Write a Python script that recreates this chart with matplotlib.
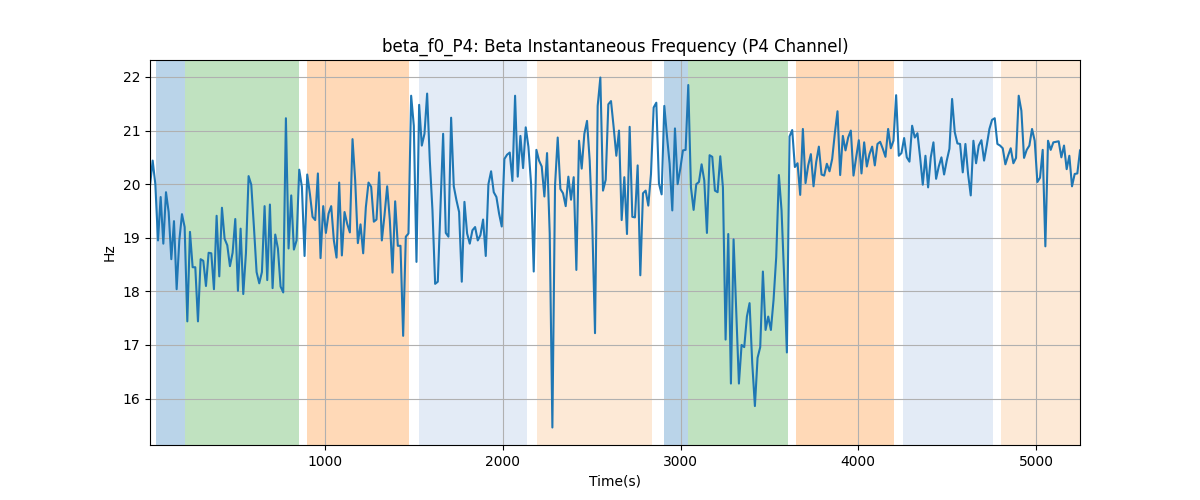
import numpy as np
import matplotlib
matplotlib.use("Agg")
import matplotlib.pyplot as plt

# Beta instantaneous frequency (Hz), one value every 15 s
freq = [
    19.97, 20.44, 20.0, 18.95, 19.76, 18.89, 19.85, 19.48, 18.6, 19.31, 18.04, 18.95, 19.44, 19.2, 17.44,
    19.11, 18.45, 18.45, 17.44, 18.6, 18.57, 18.1, 18.72, 18.71, 18.04, 19.41, 18.28, 19.56, 18.98, 18.86,
    18.47, 18.72, 19.35, 18.01, 19.17, 17.95, 18.71, 20.15, 19.99, 19.2, 18.36, 18.15, 18.36, 19.59, 18.21,
    19.62, 18.06, 19.06, 18.8, 18.09, 17.98, 21.23, 18.8, 19.79, 18.78, 18.95, 20.27, 19.95, 18.66, 20.18,
    19.82, 19.39, 19.33, 20.2, 18.62, 19.59, 19.09, 19.45, 19.59, 18.95, 18.63, 20.03, 18.67, 19.48, 19.26,
    19.1, 20.84, 20.07, 18.9, 19.25, 18.71, 19.57, 20.03, 19.95, 19.3, 19.34, 20.22, 18.95,
    19.42, 19.96, 19.33, 18.35, 19.68, 18.85, 18.85, 17.17, 19.02, 19.08, 21.65, 21.09, 18.55, 21.48, 20.72,
    20.94, 21.69, 20.44, 19.51, 18.14, 18.18, 19.57, 20.94, 19.09, 19.02, 21.24, 19.96, 19.7, 19.48, 18.18,
    19.67, 19.08, 18.89, 19.14, 19.2, 18.95, 19.05, 19.34, 18.66, 20.0, 20.24, 19.85, 19.76, 19.45,
    19.21,
    20.47, 20.55, 20.59, 20.06, 21.65, 20.14, 20.9, 20.3, 21.06, 20.7, 20.01, 18.37, 20.64, 20.44, 20.33,
    19.77, 20.58, 19.08, 15.46, 19.98, 20.87, 19.91, 19.83, 19.59, 20.14, 19.71, 20.13, 18.4, 20.81, 20.29,
    20.94, 21.18, 20.44, 19.2, 17.22, 21.46, 21.99, 19.88, 20.08, 21.49, 21.55, 21.06, 20.53, 21.0,
    19.33, 20.13, 19.07, 21.07, 19.39, 19.38, 20.35, 18.3, 19.83, 19.88, 19.6, 20.19, 21.43, 21.52, 20.01,
    19.81, 21.46, 20.9, 20.38, 19.51, 21.04, 20.0, 20.29, 20.63, 20.64, 21.85, 19.94, 19.52, 20.0, 20.04,
    20.37, 20.07, 19.09, 20.54, 20.51, 19.88, 19.85, 20.52, 19.94, 17.1, 19.07, 16.28, 18.97,
    17.6,
    16.28, 17.0, 16.96, 17.53, 17.78, 16.66, 15.86, 16.76, 16.96, 18.37, 17.28, 17.53, 17.28, 17.84, 18.64,
    20.17, 19.51, 18.24, 16.86, 20.89, 21.01, 20.32, 20.39, 19.8, 21.03, 20.02, 20.35, 20.56, 19.96, 20.41,
    20.7, 20.18, 20.16, 20.38, 20.24, 20.47, 20.95, 21.36, 20.17, 20.9, 20.63, 20.87, 21.0,
    20.16, 20.5,
    20.82, 20.2, 20.78, 20.33, 20.56, 20.7, 20.35, 20.75, 20.79, 20.66, 20.51, 21.03, 20.67, 20.81, 21.66,
    20.53, 20.58, 20.86, 20.5, 20.42, 21.09, 20.87, 20.95, 20.5, 19.99, 20.53, 19.94, 20.5, 20.78, 20.1,
    20.33, 20.5, 20.18, 20.44, 20.66, 21.59, 20.97, 20.76, 20.75, 20.22, 20.75, 20.19,
    19.79,
    20.81, 20.39, 20.72, 20.82, 20.44, 20.72, 21.03, 21.2, 21.23, 20.75, 20.72, 20.67, 20.37, 20.53, 20.67,
    20.39, 20.49, 21.65, 21.37, 20.49, 20.64, 20.72, 21.03, 20.81, 20.04, 20.12, 20.64, 18.84, 20.81, 20.64,
    20.78, 20.79, 20.8, 20.5, 20.72, 20.28, 20.53, 19.96, 20.19, 20.2, 20.63,
]
t_start = 13.0
t_step = 15.0

# Shaded segments (seconds)
span_starts = [48, 210, 897, 1525, 2192, 2905, 3040, 3651, 4250, 4806]
span_ends = [210, 850, 1472, 2133, 2841, 3040, 3606, 4199, 4761, 5400]
span_colors = ["#bad4e9", "#c0e2c0", "#ffd9b7", "#e3ebf6", "#fde9d6",
               "#bad4e9", "#c0e2c0", "#ffd9b7", "#e3ebf6", "#fde9d6"]

time = t_start + t_step * np.arange(len(freq))

fig, ax = plt.subplots(figsize=(12, 5), dpi=100)
for s, e, c in zip(span_starts, span_ends, span_colors):
    ax.axvspan(s, e, color=c, lw=0)
ax.plot(time, freq, color="#1f77b4", lw=1.5)
ax.set_xlim(time[0], time[-1])
ax.grid(True)
ax.set_title("beta_f0_P4: Beta Instantaneous Frequency (P4 Channel)")
ax.set_xlabel("Time(s)")
ax.set_ylabel("Hz")
fig.savefig("out.png")
